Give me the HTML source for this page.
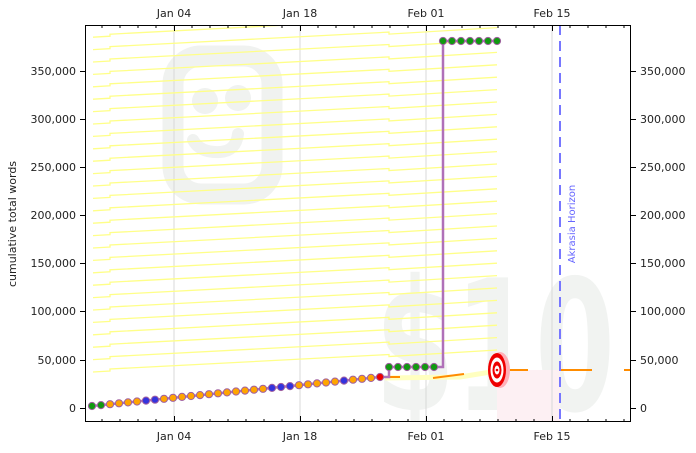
<!DOCTYPE html>
<html><head><meta charset="utf-8"><style>
html,body{margin:0;padding:0;background:#fff;}
svg{display:block;font-family:"DejaVu Sans","Liberation Sans",sans-serif;}
</style></head><body>
<svg width="696" height="453" viewBox="0 0 696 453" xmlns="http://www.w3.org/2000/svg">
<defs>
<clipPath id="pc"><rect x="85" y="25" width="546" height="397"/></clipPath>
<g id="yl"><polyline points="93,0 110,-1 110,-3 389,-17.5 389,-15.5 497,-22" fill="none" stroke="#ffff88" stroke-width="1.3"/></g>
</defs>
<rect x="85" y="25" width="546" height="397" fill="#fff"/>
<g clip-path="url(#pc)">
<!-- watermarks -->
<rect x="173" y="56" width="99" height="138" rx="28" fill="none" stroke="#f0f2f0" stroke-width="21"/>
<circle cx="205" cy="101" r="13" fill="#f0f2f0"/>
<circle cx="238" cy="98" r="13" fill="#f0f2f0"/>
<path d="M193 140 Q200 153 220 152 Q236 151 238 134" fill="none" stroke="#f0f2f0" stroke-width="12" stroke-linecap="round"/>
<text x="375" y="410" font-size="182" font-weight="bold" fill="#f1f3f1" textLength="240" lengthAdjust="spacingAndGlyphs" font-family="DejaVu Sans,sans-serif">$10</text>
<!-- pink region -->
<rect x="497" y="370" width="63" height="52" fill="#fdf0f3"/>
<!-- grid -->
<g stroke="#d8d8d8" stroke-width="1">
<line x1="174" y1="25" x2="174" y2="422"/><line x1="300" y1="25" x2="300" y2="422"/>
<line x1="426" y1="25" x2="426" y2="422"/><line x1="552" y1="25" x2="552" y2="422"/>
</g>
<!-- yellow lines -->
<use href="#yl" y="372"/><use href="#yl" y="359.6"/><use href="#yl" y="347.2"/><use href="#yl" y="334.8"/>
<use href="#yl" y="322.4"/><use href="#yl" y="310"/><use href="#yl" y="297.6"/><use href="#yl" y="285.2"/>
<use href="#yl" y="272.8"/><use href="#yl" y="260.4"/><use href="#yl" y="248"/><use href="#yl" y="235.6"/>
<use href="#yl" y="223.2"/><use href="#yl" y="210.8"/><use href="#yl" y="198.4"/><use href="#yl" y="186"/>
<use href="#yl" y="173.6"/><use href="#yl" y="161.2"/><use href="#yl" y="148.8"/><use href="#yl" y="136.4"/>
<use href="#yl" y="124"/><use href="#yl" y="111.6"/><use href="#yl" y="99.2"/><use href="#yl" y="86.8"/>
<use href="#yl" y="74.4"/><use href="#yl" y="62"/><use href="#yl" y="49.6"/><use href="#yl" y="37.2"/>
<use href="#yl" y="24.8"/><use href="#yl" y="12.4"/>
<polyline points="385,378 460,377 497,371" fill="none" stroke="#ffffc0" stroke-width="5"/>
<!-- orange road -->
<polyline points="380,377 400,377" fill="none" stroke="#ff8c00" stroke-width="2"/>
<polyline points="433,378 464,374" fill="none" stroke="#ff8c00" stroke-width="2"/>
<g stroke="#ff8c00" stroke-width="2"><line x1="497" y1="370" x2="528" y2="370"/><line x1="560" y1="370" x2="592" y2="370"/><line x1="624" y1="370" x2="631" y2="370"/></g>
<!-- akrasia -->
<line x1="560" y1="25" x2="560" y2="422" stroke="#7777ff" stroke-width="2" stroke-dasharray="10,6"/>
<text transform="translate(575,224) rotate(-90)" font-size="10" fill="#6666ff" text-anchor="middle">Akrasia Horizon</text>
<!-- purple data line -->
<polyline points="88,406 92,406 380,377 389,377 389,367 443,367 443,41 497,41" fill="none" stroke="#b070b8" stroke-width="2.5"/>
<!-- bullseye -->
<ellipse cx="500" cy="370" rx="10" ry="18" fill="#ffb0b8"/>
<ellipse cx="497" cy="370" rx="9" ry="17" fill="#ee0000"/>
<ellipse cx="497" cy="370" rx="6.5" ry="12.5" fill="#fff"/>
<ellipse cx="497" cy="370" rx="4.5" ry="8.5" fill="#ee0000"/>
<ellipse cx="497" cy="370" rx="2.5" ry="4.5" fill="#fff"/>
<circle cx="497" cy="370" r="1.3" fill="#ee0000"/>
<!-- dots -->
<g stroke="#a060a0" stroke-width="1">
<circle cx="92" cy="406" r="3.6" fill="#119911"/><circle cx="101" cy="405.1" r="3.6" fill="#119911"/>
<circle cx="110" cy="404.2" r="3.6" fill="#ffa500"/><circle cx="119" cy="403.3" r="3.6" fill="#ffa500"/>
<circle cx="128" cy="402.4" r="3.6" fill="#ffa500"/><circle cx="137" cy="401.5" r="3.6" fill="#ffa500"/>
<circle cx="146" cy="400.6" r="3.6" fill="#3333dd"/><circle cx="155" cy="399.7" r="3.6" fill="#3333dd"/>
<circle cx="164" cy="398.8" r="3.6" fill="#ffa500"/><circle cx="173" cy="397.8" r="3.6" fill="#ffa500"/>
<circle cx="182" cy="396.9" r="3.6" fill="#ffa500"/><circle cx="191" cy="396" r="3.6" fill="#ffa500"/>
<circle cx="200" cy="395.1" r="3.6" fill="#ffa500"/><circle cx="209" cy="394.2" r="3.6" fill="#ffa500"/>
<circle cx="218" cy="393.3" r="3.6" fill="#ffa500"/><circle cx="227" cy="392.4" r="3.6" fill="#ffa500"/>
<circle cx="236" cy="391.5" r="3.6" fill="#ffa500"/><circle cx="245" cy="390.6" r="3.6" fill="#ffa500"/>
<circle cx="254" cy="389.7" r="3.6" fill="#ffa500"/><circle cx="263" cy="388.8" r="3.6" fill="#ffa500"/>
<circle cx="272" cy="387.9" r="3.6" fill="#3333dd"/><circle cx="281" cy="387" r="3.6" fill="#3333dd"/>
<circle cx="290" cy="386.1" r="3.6" fill="#3333dd"/><circle cx="299" cy="385.2" r="3.6" fill="#ffa500"/>
<circle cx="308" cy="384.3" r="3.6" fill="#ffa500"/><circle cx="317" cy="383.4" r="3.6" fill="#ffa500"/>
<circle cx="326" cy="382.5" r="3.6" fill="#ffa500"/><circle cx="335" cy="381.6" r="3.6" fill="#ffa500"/>
<circle cx="344" cy="380.6" r="3.6" fill="#3333dd"/><circle cx="353" cy="379.7" r="3.6" fill="#ffa500"/>
<circle cx="362" cy="378.8" r="3.6" fill="#ffa500"/><circle cx="371" cy="377.9" r="3.6" fill="#ffa500"/>
<circle cx="380" cy="377" r="3.6" fill="#ee0000"/>
<circle cx="389" cy="367" r="3.6" fill="#119911"/><circle cx="398" cy="367" r="3.6" fill="#119911"/>
<circle cx="407" cy="367" r="3.6" fill="#119911"/><circle cx="416" cy="367" r="3.6" fill="#119911"/>
<circle cx="425" cy="367" r="3.6" fill="#119911"/><circle cx="434" cy="367" r="3.6" fill="#119911"/>
<circle cx="443" cy="41" r="3.6" fill="#119911"/><circle cx="452" cy="41" r="3.6" fill="#119911"/>
<circle cx="461" cy="41" r="3.6" fill="#119911"/><circle cx="470" cy="41" r="3.6" fill="#119911"/>
<circle cx="479" cy="41" r="3.6" fill="#119911"/><circle cx="488" cy="41" r="3.6" fill="#119911"/>
<circle cx="497" cy="41" r="3.6" fill="#119911"/>
</g>
</g>
<!-- frame -->
<rect x="85.5" y="25.5" width="545" height="396" fill="none" stroke="#000" stroke-width="1"/>
<!-- x ticks -->
<g stroke="#000" stroke-width="1">
<path d="M102 422v-3M120 422v-3M138 422v-3M156 422v-3M192 422v-3M210 422v-3M228 422v-3M246 422v-3M264 422v-3M282 422v-3M318 422v-3M336 422v-3M354 422v-3M372 422v-3M390 422v-3M408 422v-3M444 422v-3M462 422v-3M480 422v-3M498 422v-3M516 422v-3M534 422v-3M570 422v-3M588 422v-3M606 422v-3M624 422v-3"/>
<path d="M174.5 422v-6M300.5 422v-6M426.5 422v-6M552.5 422v-6"/>
<path d="M102 25v3M120 25v3M138 25v3M156 25v3M192 25v3M210 25v3M228 25v3M246 25v3M264 25v3M282 25v3M318 25v3M336 25v3M354 25v3M372 25v3M390 25v3M408 25v3M444 25v3M462 25v3M480 25v3M498 25v3M516 25v3M534 25v3M570 25v3M588 25v3M606 25v3M624 25v3"/>
<path d="M174.5 25v6M300.5 25v6M426.5 25v6M552.5 25v6"/>
<path d="M80 408.5h5M80 360.5h5M80 311.5h5M80 263.5h5M80 215.5h5M80 167.5h5M80 119.5h5M80 71.5h5"/>
<path d="M631 408.5h5M631 360.5h5M631 311.5h5M631 263.5h5M631 215.5h5M631 167.5h5M631 119.5h5M631 71.5h5"/>
</g>
<g font-size="11" fill="#222" text-anchor="middle">
<text x="174" y="440">Jan 04</text><text x="300" y="440">Jan 18</text><text x="426" y="440">Feb 01</text><text x="552" y="440">Feb 15</text>
<text x="174" y="17">Jan 04</text><text x="300" y="17">Jan 18</text><text x="426" y="17">Feb 01</text><text x="552" y="17">Feb 15</text>
</g>
<g font-size="11" fill="#222" text-anchor="end">
<text x="76" y="412">0</text><text x="76" y="364">50,000</text><text x="76" y="315">100,000</text><text x="76" y="267">150,000</text>
<text x="76" y="219">200,000</text><text x="76" y="171">250,000</text><text x="76" y="123">300,000</text><text x="76" y="75">350,000</text>
</g>
<g font-size="11" fill="#222" text-anchor="start">
<text x="640" y="412">0</text><text x="640" y="364">50,000</text><text x="640" y="315">100,000</text><text x="640" y="267">150,000</text>
<text x="640" y="219">200,000</text><text x="640" y="171">250,000</text><text x="640" y="123">300,000</text><text x="640" y="75">350,000</text>
</g>
<text transform="translate(16,224) rotate(-90)" font-size="11" fill="#222" text-anchor="middle">cumulative total words</text>
</svg>
</body></html>
